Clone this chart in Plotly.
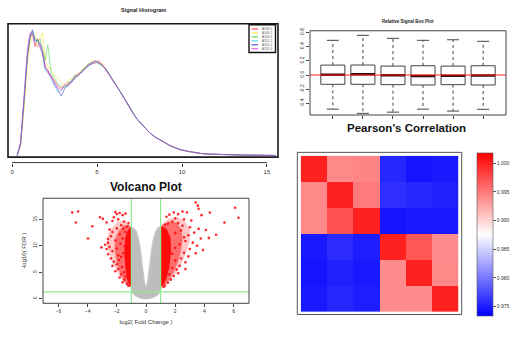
import plotly.graph_objects as go

W, H = 530, 340
FONT = "Liberation Sans"

# ---------------- data ----------------
sample_names = ["A549-1", "A549-2", "A549-3", "A551-1", "A551-2", "A551-3"]
sample_colors = ["#ff3030", "#f2e030", "#40d840", "#40d0f0", "#3838d0", "#e040e0"]

# signal histogram (density, arbitrary units)
hist_x = [0.3, 0.5, 0.7, 0.9, 1.05, 1.2, 1.35, 1.5, 1.65, 1.8, 1.95, 2.1, 2.3, 2.5, 2.7,
          2.9, 3.1, 3.3, 3.5, 3.7, 3.9, 4.1, 4.3, 4.5, 4.7, 4.9, 5.1, 5.3, 5.5, 5.7, 5.9,
          6.1, 6.35, 6.6, 6.85, 7.1, 7.35, 7.6, 7.85, 8.1, 8.4, 8.7, 9.0, 9.3, 9.6, 9.9,
          10.3, 10.7, 11.1, 11.5, 12.0, 12.5, 13.0, 13.5, 14.0, 14.5, 15.0, 15.5]
tail = [65, 58, 50, 43, 37, 32, 27, 23, 19, 16, 13, 10, 8, 6, 4.5, 3, 2.2, 1.6, 1.2,
        1.0, 0.8, 0.6, 0.5, 0.4, 0.3, 0.2]
hist_s1 = [0, 11, 52, 98, 117, 124, 110, 118, 108, 104, 90, 86, 80, 76, 70, 68, 71, 74,
           74, 80, 83, 84, 88, 92, 94, 93, 96, 92, 87, 82, 77, 71] + tail
hist_s2 = [0, 9, 45, 92, 112, 120, 122, 110, 120, 124, 95, 90, 85, 82, 78, 74, 70, 76,
           78, 77, 84, 86, 90, 90, 96, 95, 92, 94, 88, 84, 76, 72] + tail
hist_s3 = [0, 12, 54, 100, 119, 125, 118, 114, 118, 106, 96, 112, 84, 78, 72, 70, 68, 73,
           76, 82, 80, 86, 89, 93, 92, 96, 94, 90, 88, 83, 78, 72] + tail
hist_s4 = [0, 12, 56, 102, 121, 126, 114, 116, 110, 100, 86, 84, 78, 70, 64, 66, 70, 70,
           76, 78, 82, 84, 87, 90, 93, 94, 93, 91, 88, 83, 78, 72] + tail
hist_s5 = [0, 12, 55, 101, 120, 127, 116, 117, 112, 104, 88, 86, 80, 72, 66, 60, 68, 72,
           74, 78, 82, 85, 88, 91, 94, 95, 94, 91, 88, 82, 77, 71] + tail
hist_s6 = [0, 14, 60, 106, 124, 122, 112, 110, 114, 102, 90, 84, 79, 74, 68, 66, 72, 70,
           75, 80, 81, 85, 89, 92, 92, 96, 93, 92, 87, 82, 77, 71] + tail
hist_series = [hist_s1, hist_s2, hist_s3, hist_s4, hist_s5, hist_s6]

# relative signal box plot
box_q1 = [-0.13, -0.13, -0.135, -0.14, -0.135, -0.14]
box_med = [0.005, 0.01, -0.005, -0.015, -0.01, -0.008]
box_q3 = [0.139, 0.14, 0.125, 0.13, 0.125, 0.13]
box_lo = [-0.478, -0.537, -0.52, -0.478, -0.505, -0.48]
box_hi = [0.486, 0.556, 0.514, 0.486, 0.494, 0.472]

# volcano plot
fc_cut = [-1, 1]
fdr_cut = 1.3
gray_fc = [-1.0, -0.85, -0.65, -0.5, -0.38, -0.28, -0.2, -0.12, 0.0, 0.12, 0.2, 0.28, 0.38,
           0.5, 0.65, 0.85, 1.0, 1.0, 0.85, 0.6, 0.3, 0.0, -0.3, -0.6, -0.85, -1.0]
gray_fdr = [13.5, 13.3, 12.6, 11.0, 9.0, 7.0, 5.0, 3.0, 2.0, 3.0, 5.0, 7.0, 9.0,
            11.0, 12.6, 13.4, 13.6, 1.6, 0.9, 0.4, 0.1, 0.0, 0.1, 0.4, 0.9, 1.6]
# density envelopes of the significant genes: outer, middle, core
down_cloud_fc = [-1.0, -1.25, -1.55, -1.8, -2.05, -2.3, -2.55, -2.7, -2.6, -2.3, -1.9, -1.5, -1.2, -1.0]
down_cloud_fdr = [2.2, 2.4, 3.3, 4.3, 5.5, 7.0, 8.8, 10.3, 12.2, 13.6, 14.6, 14.8, 14.2, 13.5]
down_mid_fc = [-1.0, -1.2, -1.45, -1.7, -1.9, -2.05, -2.15, -2.1, -1.85, -1.5, -1.2, -1.0]
down_mid_fdr = [2.2, 2.4, 3.2, 4.4, 5.8, 7.5, 9.5, 11.5, 13.0, 13.9, 14.0, 13.5]
down_core_fc = [-1.0, -1.15, -1.3, -1.42, -1.48, -1.42, -1.25, -1.1, -1.0]
down_core_fdr = [2.2, 2.6, 3.8, 6.0, 9.0, 11.5, 12.9, 13.4, 13.4]
up_cloud_fc = [1.0, 1.3, 1.7, 2.1, 2.5, 2.8, 3.0, 3.0, 2.7, 2.2, 1.6, 1.2, 1.0]
up_cloud_fdr = [2.2, 2.5, 3.5, 5.0, 7.0, 9.0, 11.0, 13.0, 14.6, 15.4, 15.2, 14.4, 13.6]
up_mid_fc = [1.0, 1.25, 1.55, 1.9, 2.2, 2.4, 2.5, 2.45, 2.1, 1.6, 1.2, 1.0]
up_mid_fdr = [2.2, 2.5, 3.4, 5.0, 7.0, 9.0, 11.0, 13.0, 14.4, 14.6, 14.1, 13.6]
up_core_fc = [1.0, 1.2, 1.4, 1.6, 1.72, 1.68, 1.45, 1.2, 1.0]
up_core_fdr = [2.2, 2.6, 3.8, 6.0, 9.0, 11.5, 13.0, 13.6, 13.6]
down_fc = [-5.05, -4.65, -4.8, -3.97, -3.67, -3.15, -3.05, -2.95, -2.7, -2.7, -2.1, -2.0,
           -2.3, -2.5, -2.6, -1.8, -1.6, -1.4, -1.9, -2.2, -1.5, -1.7, -2.0, -2.3, -2.4,
           -2.6, -2.8, -2.5, -2.3, -2.6, -2.4, -2.2, -2.3, -2.0, -1.9, -2.1, -1.7, -1.8,
           -1.5, -1.6, -1.3, -1.2, -1.9, -2.0, -2.1, -1.8, -1.6, -1.75, -1.85, -1.65,
           -1.55, -1.45, -1.4, -1.3, -1.2, -1.55, -1.7, -1.5, -1.4]
down_fdr = [16.3, 16.5, 14.4, 11.4, 13.7, 15.4, 9.7, 15.1, 14.4, 9.4, 16.4, 16.0,
            14.7, 13.1, 11.3, 16.2, 15.8, 16.1, 15.0, 15.4, 14.6, 13.9, 13.3, 12.6, 11.8,
            10.6, 10.2, 9.8, 9.0, 8.4, 7.6, 7.0, 6.2, 6.5, 5.6, 5.2, 4.6, 4.0,
            3.6, 3.1, 2.8, 2.4, 8.2, 9.5, 11.0, 12.2, 11.4, 10.4, 7.3, 6.0,
            8.6, 9.9, 12.6, 13.6, 14.3, 13.2, 7.9, 5.0, 4.2]
up_fc = [3.4, 3.55, 3.6, 4.37, 6.1, 6.33, 5.37, 4.3, 3.75, 3.0, 2.8, 2.5, 2.2, 1.9, 1.6,
         1.4, 2.0, 2.6, 3.1, 3.3, 2.9, 3.2, 3.5, 2.7, 3.0, 2.6, 2.9, 2.4, 2.7, 2.3, 2.1,
         2.2, 1.9, 1.7, 1.5, 1.3, 1.2, 2.5, 2.2, 1.8, 1.5, 1.3, 2.4, 2.0, 2.6, 2.3, 2.0,
         1.8, 2.0, 1.8, 1.6, 2.7, 3.4, 3.9, 3.6, 4.1, 3.8, 4.8]
up_fdr = [18.2, 17.6, 17.0, 16.3, 17.2, 15.3, 14.4, 11.5, 11.4, 13.5, 16.3, 16.5, 16.0,
          16.3, 15.9, 15.5, 15.2, 15.0, 14.8, 12.5, 12.0, 10.6, 10.0, 10.9, 9.4, 8.7, 8.0,
          7.6, 6.9, 6.2, 5.5, 4.8, 4.3, 3.6, 3.0, 2.5, 2.2, 13.8, 14.3, 14.6, 14.2, 14.0,
          12.9, 12.4, 11.6, 10.3, 9.6, 8.5, 7.2, 5.8, 4.6, 5.6, 8.6, 9.2, 13.2, 13.0,
          15.8, 12.1]

# pearson correlation matrix
corr = [
    [1.000, 0.9942, 0.9944, 0.9755, 0.9745, 0.9748],
    [0.9942, 1.000, 0.9950, 0.9760, 0.9755, 0.9752],
    [0.9942, 0.9972, 1.000, 0.9745, 0.9748, 0.9748],
    [0.9748, 0.9758, 0.9750, 1.000, 0.9970, 0.9940],
    [0.9745, 0.9752, 0.9748, 0.9940, 1.000, 0.9942],
    [0.9748, 0.9755, 0.9750, 0.9940, 0.9940, 1.000],
]
corr_ticks = [0.975, 0.980, 0.985, 0.990, 0.995, 1.000]


# ---------------- helpers ----------------
def px_x(x):
    return x / W


def px_y(y):
    return 1 - y / H


def dom_x(a, b):
    return [a / W, b / W]


def dom_y(top, bottom):
    return [1 - bottom / H, 1 - top / H]


tick_font = dict(family=FONT, size=5, color="#333333")

fig = go.Figure()

# ---------------- signal histogram ----------------
for name, col, ys in zip(sample_names, sample_colors, hist_series):
    fig.add_trace(go.Scatter(x=hist_x, y=ys, mode="lines", name=name,
                             line=dict(color=col, width=1), opacity=0.55,
                             xaxis="x", yaxis="y", showlegend=False))

# ---------------- box plot ----------------
bx, by = [], []
wx, wy = [], []
cx, cy = [], []
mx, my = [], []
for i in range(len(box_q1)):
    p = i + 1
    bx += [p - 0.4, p + 0.4, p + 0.4, p - 0.4, p - 0.4, None]
    by += [box_q1[i], box_q1[i], box_q3[i], box_q3[i], box_q1[i], None]
    wx += [p, p, None, p, p, None]
    wy += [box_q3[i], box_hi[i], None, box_q1[i], box_lo[i], None]
    cx += [p - 0.2, p + 0.2, None, p - 0.2, p + 0.2, None]
    cy += [box_hi[i], box_hi[i], None, box_lo[i], box_lo[i], None]
    mx += [p - 0.4, p + 0.4, None]
    my += [box_med[i], box_med[i], None]

fig.add_trace(go.Scatter(x=wx, y=wy, mode="lines", line=dict(color="#444444", width=1, dash="dot"),
                         xaxis="x2", yaxis="y2", showlegend=False))
fig.add_trace(go.Scatter(x=cx, y=cy, mode="lines", line=dict(color="#444444", width=1),
                         xaxis="x2", yaxis="y2", showlegend=False))
fig.add_trace(go.Scatter(x=bx, y=by, mode="lines", line=dict(color="#444444", width=1),
                         xaxis="x2", yaxis="y2", showlegend=False))
fig.add_trace(go.Scatter(x=mx, y=my, mode="lines", line=dict(color="#3a0808", width=2.5),
                         xaxis="x2", yaxis="y2", showlegend=False))
fig.add_trace(go.Scatter(x=[0.24, 6.76], y=[0, 0], mode="lines", line=dict(color="#ff2020", width=1),
                         xaxis="x2", yaxis="y2", showlegend=False))

# ---------------- volcano plot ----------------
fig.add_trace(go.Scatter(x=gray_fc, y=gray_fdr, fill="toself", mode="lines",
                         fillcolor="#bdbdbd", line=dict(color="#c6c6c6", width=1.5),
                         xaxis="x3", yaxis="y3", showlegend=False))
for fx, fy, fc in [(down_cloud_fc, down_cloud_fdr, "rgba(255,0,0,0.22)"),
                   (up_cloud_fc, up_cloud_fdr, "rgba(255,0,0,0.22)"),
                   (down_mid_fc, down_mid_fdr, "rgba(255,0,0,0.45)"),
                   (up_mid_fc, up_mid_fdr, "rgba(255,0,0,0.45)"),
                   (down_core_fc, down_core_fdr, "rgba(255,0,0,0.9)"),
                   (up_core_fc, up_core_fdr, "rgba(255,0,0,0.9)")]:
    fig.add_trace(go.Scatter(x=fx, y=fy, fill="toself", mode="none", fillcolor=fc,
                             xaxis="x3", yaxis="y3", showlegend=False))
fig.add_trace(go.Scatter(x=down_fc + up_fc, y=down_fdr + up_fdr, mode="markers",
                         marker=dict(color="#ff1010", size=2.6, opacity=0.9),
                         xaxis="x3", yaxis="y3", showlegend=False))
for v in fc_cut:
    fig.add_trace(go.Scatter(x=[v, v], y=[-0.88, 19], mode="lines",
                             line=dict(color="#90e890", width=1.2),
                             xaxis="x3", yaxis="y3", showlegend=False))
fig.add_trace(go.Scatter(x=[-7.05, 7.05], y=[fdr_cut, fdr_cut], mode="lines",
                         line=dict(color="#90e890", width=1.2),
                         xaxis="x3", yaxis="y3", showlegend=False))

# ---------------- correlation heatmap ----------------
fig.add_trace(go.Heatmap(
    z=corr, x=[1, 2, 3, 4, 5, 6], y=[1, 2, 3, 4, 5, 6],
    zmin=0.9734, zmax=1.0018,
    colorscale=[[0, "#0000ff"], [0.5, "#ffffff"], [1, "#ff0000"]],
    xaxis="x4", yaxis="y4",
    colorbar=dict(x=477.3 / W, xanchor="left", y=px_y(233.3), yanchor="middle",
                  thickness=16, thicknessmode="pixels", len=163, lenmode="pixels",
                  xpad=0, ypad=0, outlinewidth=0.6, outlinecolor="#555555",
                  tickvals=corr_ticks, ticktext=[f"{t:.3f}" for t in corr_ticks],
                  ticks="outside", ticklen=3, tickcolor="#555555",
                  tickfont=dict(family=FONT, size=5, color="#333333")),
))

# ---------------- layout ----------------
noaxis = dict(showgrid=False, zeroline=False, showline=False)
layout = dict(
    width=W, height=H, margin=dict(l=0, r=0, t=0, b=0),
    paper_bgcolor="white", plot_bgcolor="white", showlegend=False,
    font=dict(family=FONT, color="#333333"),
    xaxis=dict(domain=dom_x(8, 278), range=[-0.24, 15.65], anchor="free", position=px_y(161),
               tickvals=[0, 5, 10, 15], ticks="outside", ticklen=3, tickcolor="#333333",
               tickfont=dict(family=FONT, size=6, color="#333333"), **noaxis),
    yaxis=dict(domain=dom_y(21, 155.5), range=[-1.5, 133], anchor="x",
               showticklabels=False, **noaxis),
    xaxis2=dict(domain=dom_x(310, 506), range=[0.24, 6.76], anchor="y2",
                tickvals=[1, 2, 3, 4, 5, 6], ticks="outside", ticklen=3, tickcolor="#444444",
                showticklabels=False, **noaxis),
    yaxis2=dict(domain=dom_y(28, 113), range=[-0.56, 0.62], anchor="x2",
                tickvals=[-0.4, -0.2, 0.0, 0.2, 0.4, 0.6],
                ticktext=["-0.4", "-0.2", "0.0", "0.2", "0.4", "0.6"],
                ticks="outside", ticklen=3, tickcolor="#444444", tickangle=-90,
                tickfont=tick_font, **noaxis),
    xaxis3=dict(domain=dom_x(43, 249), range=[-7.05, 7.05], anchor="y3",
                tickvals=[-6, -4, -2, 0, 2, 4, 6], ticks="outside", ticklen=3, tickcolor="#444444",
                tickfont=tick_font,
                title=dict(text="log2( Fold Change )", font=dict(family=FONT, size=6, color="#333333"),
                           standoff=6), **noaxis),
    yaxis3=dict(domain=dom_y(197, 303), range=[-0.88, 19], anchor="x3",
                tickvals=[0, 5, 10, 15], ticks="outside", ticklen=3, tickcolor="#444444",
                tickangle=-90, tickfont=tick_font,
                title=dict(text="-log10( FDR )", font=dict(family=FONT, size=6, color="#333333"),
                           standoff=4), **noaxis),
    xaxis4=dict(domain=dom_x(300.7, 458.3), range=[0.5, 6.5], anchor="y4",
                showticklabels=False, ticks="", **noaxis),
    yaxis4=dict(domain=dom_y(154, 311.7), range=[6.5, 0.5], anchor="x4",
                showticklabels=False, ticks="", **noaxis),
)
fig.update_layout(**layout)

shapes = [
    # panel frames
    dict(type="rect", xref="paper", yref="paper", x0=px_x(8), x1=px_x(278),
         y0=px_y(155.5), y1=px_y(21), line=dict(color="#1a1a1a", width=1.6)),
    dict(type="line", xref="x", yref="paper", x0=0, x1=15, y0=px_y(161), y1=px_y(161),
         line=dict(color="#333333", width=1)),
    dict(type="rect", xref="paper", yref="paper", x0=px_x(310), x1=px_x(506),
         y0=px_y(113), y1=px_y(28), line=dict(color="#444444", width=1)),
    dict(type="rect", xref="paper", yref="paper", x0=px_x(43), x1=px_x(249),
         y0=px_y(303), y1=px_y(197), line=dict(color="#444444", width=1)),
    dict(type="rect", xref="paper", yref="paper", x0=px_x(297.3), x1=px_x(461.7),
         y0=px_y(314.3), y1=px_y(150.7), line=dict(color="#555555", width=1)),
    # histogram legend frame
    dict(type="rect", xref="paper", yref="paper", x0=px_x(249), x1=px_x(275.5),
         y0=px_y(50), y1=px_y(22), line=dict(color="#111111", width=1.4),
         fillcolor="white"),
]
annotations = [
    dict(text="<b>Signal Histogram</b>", x=px_x(143), y=px_y(7), font=dict(size=5.5, color="#222222")),
    dict(text="<b>Relative Signal Box Plot</b>", x=px_x(408), y=px_y(19), font=dict(size=4.5, color="#222222")),
    dict(text="<b>Pearson's Correlation</b>", x=px_x(406), y=px_y(126), font=dict(size=11.5, color="#111111")),
    dict(text="<b>Volcano Plot</b>", x=px_x(146), y=px_y(186), font=dict(size=12, color="#111111")),
]
for k, (name, col) in enumerate(zip(sample_names, sample_colors)):
    yk = 26.2 + k * 4.0
    shapes.append(dict(type="line", xref="paper", yref="paper", x0=px_x(251.5), x1=px_x(258),
                       y0=px_y(yk), y1=px_y(yk), line=dict(color=col, width=1)))
    annotations.append(dict(text=name, x=px_x(259.5), y=px_y(yk), xanchor="left",
                            font=dict(size=3.2, color="#555555")))
for a in annotations:
    a.setdefault("xref", "paper")
    a.setdefault("yref", "paper")
    a.setdefault("xanchor", "center")
    a.setdefault("yanchor", "middle")
    a.setdefault("showarrow", False)
    a["font"].setdefault("family", FONT)

fig.update_layout(shapes=shapes, annotations=annotations)
fig.write_html("out.html")
